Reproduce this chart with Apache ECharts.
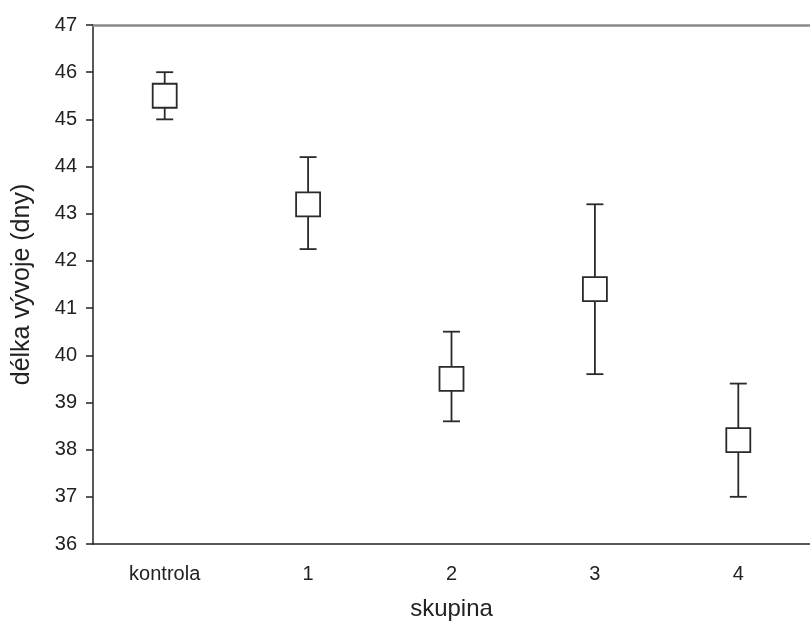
<!DOCTYPE html>
<html>
<head>
<meta charset="utf-8">
<script src="https://cdn.jsdelivr.net/npm/echarts@6/dist/echarts.min.js"></script>
<style>
html,body{margin:0;padding:0;background:#fff;}
#chart{width:810px;height:626px;}
</style>
</head>
<body>
<div id="chart"></div>
<script>
const categories = ['kontrola', '1', '2', '3', '4'];
const means = [45.5, 43.2, 39.5, 41.4, 38.2];
const upper = [46.0, 44.2, 40.5, 43.2, 39.4];
const lower = [45.0, 42.25, 38.6, 39.6, 37.0];
const yTicks = [36, 37, 38, 39, 40, 41, 42, 43, 44, 45, 46, 47];

const FONT = '"Liberation Sans", Arial, sans-serif';
const chart = echarts.init(document.getElementById('chart'));

const errData = categories.map((c, i) => [i, lower[i], upper[i]]);
const ptData = categories.map((c, i) => [i, means[i]]);

chart.setOption({
  animation: false,
  backgroundColor: '#fff',
  grid: { left: 93, right: -8, top: 25, bottom: 76 },
  xAxis: [{
    type: 'category',
    data: categories,
    boundaryGap: true,
    name: 'skupina',
    nameLocation: 'middle',
    nameGap: 53,
    nameTextStyle: { fontFamily: FONT, fontSize: 24, color: '#222' },
    axisLine: { lineStyle: { color: '#222', width: 1.5 } },
    axisTick: { alignWithLabel: true, length: 7, lineStyle: { color: '#222', width: 1.5 } },
    axisLabel: { fontFamily: FONT, fontSize: 20, color: '#222', margin: 20 },
    splitLine: { show: false }
  }, {
    type: 'category',
    data: categories,
    position: 'top',
    axisLine: { lineStyle: { color: '#8a8a8a', width: 2.5 } },
    axisTick: { show: false },
    axisLabel: { show: false },
    splitLine: { show: false }
  }],
  yAxis: {
    type: 'value',
    min: yTicks[0],
    max: yTicks[yTicks.length - 1],
    interval: 1,
    name: 'délka vývoje (dny)',
    nameLocation: 'middle',
    nameGap: 58,
    nameTextStyle: { fontFamily: FONT, fontSize: 25, color: '#222' },
    axisLine: { show: true, lineStyle: { color: '#222', width: 1.5 } },
    axisTick: { show: true, length: 7, lineStyle: { color: '#222', width: 1.5 } },
    axisLabel: { fontFamily: FONT, fontSize: 20, color: '#222', margin: 16 },
    splitLine: { show: false }
  },
  series: [{
    type: 'custom',
    data: errData,
    z: 2,
    renderItem: function (params, api) {
      const x = api.value(0);
      const lo = api.coord([x, api.value(1)]);
      const hi = api.coord([x, api.value(2)]);
      const half = 8.5;
      const style = { stroke: '#2a2a2a', lineWidth: 1.8 };
      return {
        type: 'group',
        children: [
          { type: 'line', shape: { x1: lo[0], y1: lo[1], x2: hi[0], y2: hi[1] }, style: style },
          { type: 'line', shape: { x1: hi[0] - half, y1: hi[1], x2: hi[0] + half, y2: hi[1] }, style: style },
          { type: 'line', shape: { x1: lo[0] - half, y1: lo[1], x2: lo[0] + half, y2: lo[1] }, style: style }
        ]
      };
    }
  }, {
    type: 'scatter',
    data: ptData,
    z: 3,
    symbol: 'rect',
    symbolSize: 24,
    itemStyle: { color: '#fff', borderColor: '#2a2a2a', borderWidth: 1.8, opacity: 1 }
  }]
});
</script>
</body>
</html>
